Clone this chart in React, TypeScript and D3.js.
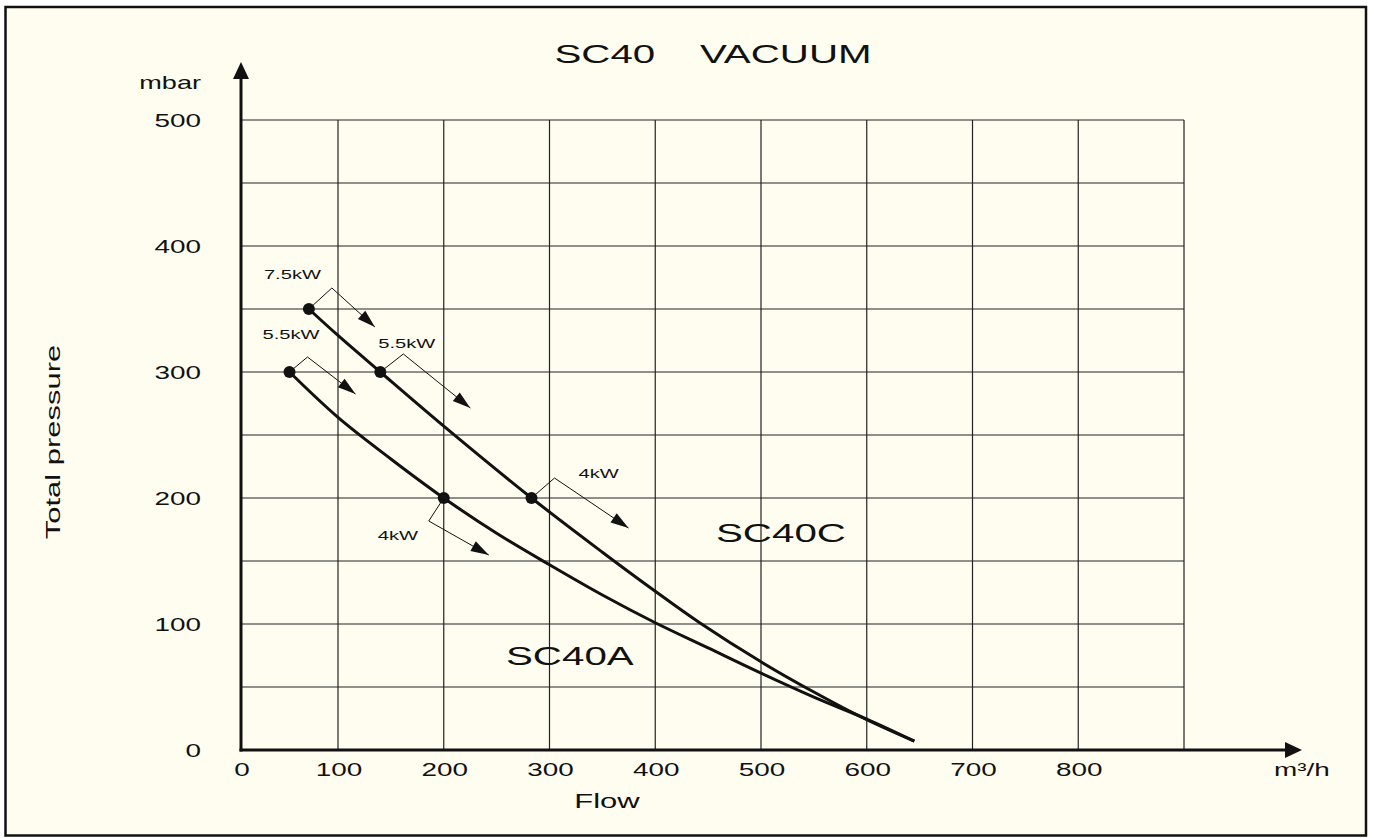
import React from "react";
import * as d3 from "d3";

// ---- data ----
const FLOW_TICKS = [0, 100, 200, 300, 400, 500, 600, 700, 800];
const PRESSURE_TICKS = [0, 100, 200, 300, 400, 500];
const GRID_FLOW = [100, 200, 300, 400, 500, 600, 700, 800, 900];
const GRID_PRESSURE = [50, 100, 150, 200, 250, 300, 350, 400, 450, 500];

const SC40A_FLOW = [50, 100, 150, 200, 250, 300, 350, 400, 450, 500, 550, 600, 645];
const SC40A_PRESSURE = [300, 264, 231, 200, 172, 147, 123, 101, 81, 61, 42, 24.5, 7];

const SC40C_FLOW = [70, 100, 140, 200, 283, 350, 400, 442, 500, 550, 600, 645];
const SC40C_PRESSURE = [350, 329, 300, 257, 200, 157, 126, 101, 70, 46, 24, 7];

const OP_FLOW = [70, 140, 283, 50, 200];
const OP_PRESSURE = [350, 300, 200, 300, 200];
const OP_LABEL = ["7.5kW", "5.5kW", "4kW", "5.5kW", "4kW"];

// annotation layout (pixel offsets from the point)
const OP_LAYOUT = [
  { lx: -45, ly: -30, bend: [23, -21], tip: [66, 18] },
  { lx: -2, ly: -24, bend: [23, -18], tip: [90, 36] },
  { lx: 47, ly: -20, bend: [23, -20], tip: [97, 30] },
  { lx: -27, ly: -33, bend: [18, -15], tip: [66, 22] },
  { lx: -66, ly: 42, bend: [-15, 23], tip: [45, 57] },
];

const W = 1374;
const H = 838;
const SX = 1.55;
const FONT = "'Liberation Sans', Arial, Helvetica, sans-serif";
const BG = "#FFFDF0";
const INK = "#111";

const x = d3.scaleLinear().domain([0, 100, 900]).range([241, 338, 1184]);
const y = d3.scaleLinear().domain([0, 500]).range([750, 120]);

function T({ x: tx, y: ty, size, anchor = "start", rotate = 0, children }: any) {
  const tr = `translate(${tx},${ty})${rotate ? ` rotate(${rotate})` : ""} scale(${SX},1)`;
  return (
    <text
      transform={tr}
      fontSize={size}
      fontFamily={FONT}
      textAnchor={anchor}
      fill={INK}
      style={{ whiteSpace: "pre" }}
    >
      {children}
    </text>
  );
}

function arrowHead(x1: number, y1: number, x2: number, y2: number, len: number, half: number) {
  const a = Math.atan2(y2 - y1, x2 - x1);
  const bx = x2 - len * Math.cos(a);
  const by = y2 - len * Math.sin(a);
  const px = -Math.sin(a) * half;
  const py = Math.cos(a) * half;
  return `M${x2},${y2}L${bx + px},${by + py}L${bx - px},${by - py}Z`;
}

export default function App() {
  const line = d3
    .line<[number, number]>()
    .x((d) => x(d[0]))
    .y((d) => y(d[1]))
    .curve(d3.curveCatmullRom.alpha(0.5));

  const a: [number, number][] = SC40A_FLOW.map((f, i) => [f, SC40A_PRESSURE[i]]);
  const c: [number, number][] = SC40C_FLOW.map((f, i) => [f, SC40C_PRESSURE[i]]);

  const x0 = x(0);
  const y0 = y(0);
  const xEnd = x(900);
  const yTop = y(500);

  return (
    <svg
      width={W}
      height={H}
      style={{ position: "absolute", left: 0, top: 0, background: "#fff" }}
    >
      <rect x={5.5} y={7} width={1360.5} height={828.5} fill={BG} stroke={INK} strokeWidth={2.5} />

      {/* grid */}
      {GRID_FLOW.map((f) => (
        <line key={"gx" + f} x1={x(f)} x2={x(f)} y1={yTop} y2={y0} stroke="#222" strokeWidth={1.2} />
      ))}
      {GRID_PRESSURE.map((p) => (
        <line key={"gy" + p} x1={x0} x2={xEnd} y1={y(p)} y2={y(p)} stroke="#222" strokeWidth={1.2} />
      ))}

      {/* axes */}
      <line x1={x0} x2={x0} y1={y0 + 1.5} y2={76} stroke={INK} strokeWidth={3} />
      <path d={`M${x0},62 L${x0 - 8},79 L${x0 + 8},79 Z`} fill={INK} />
      <line x1={x0 - 1.5} x2={1288} y1={y0} y2={y0} stroke={INK} strokeWidth={3} />
      <path d={`M1302,${y0} L1285,${y0 - 8} L1285,${y0 + 8} Z`} fill={INK} />

      {/* ticks */}
      {PRESSURE_TICKS.map((p) => (
        <T key={"py" + p} x={201} y={y(p) + 6.5} size={18} anchor="end">
          {String(p)}
        </T>
      ))}
      {FLOW_TICKS.map((f) => (
        <T key={"fx" + f} x={x(f) + 1} y={776} size={18} anchor="middle">
          {String(f)}
        </T>
      ))}
      <T x={201} y={89} size={17.5} anchor="end">mbar</T>
      <T x={1274} y={776} size={18}>m³/h</T>
      <T x={607} y={808} size={20} anchor="middle">Flow</T>
      <T x={60} y={442} size={20} anchor="middle" rotate={-90}>Total pressure</T>
      <T x={713} y={63} size={26} anchor="middle">{"SC40    VACUUM"}</T>

      {/* curves */}
      <path d={line(a) || ""} fill="none" stroke={INK} strokeWidth={3} />
      <path d={line(c) || ""} fill="none" stroke={INK} strokeWidth={3} />

      <T x={506} y={665} size={26}>SC40A</T>
      <T x={716} y={542} size={26}>SC40C</T>

      {/* operating points */}
      {OP_FLOW.map((f, i) => {
        const px = x(f);
        const py = y(OP_PRESSURE[i]);
        const L = OP_LAYOUT[i];
        const bx = px + L.bend[0];
        const by = py + L.bend[1];
        const tx = px + L.tip[0];
        const ty = py + L.tip[1];
        return (
          <g key={"op" + i}>
            <polyline points={`${px},${py} ${bx},${by} ${tx},${ty}`} fill="none" stroke={INK} strokeWidth={1} />
            <path d={arrowHead(bx, by, tx, ty, 18, 5.5)} fill={INK} />
            <circle cx={px} cy={py} r={6} fill={INK} />
            <T x={px + L.lx} y={py + L.ly} size={13}>
              {OP_LABEL[i]}
            </T>
          </g>
        );
      })}
    </svg>
  );
}
